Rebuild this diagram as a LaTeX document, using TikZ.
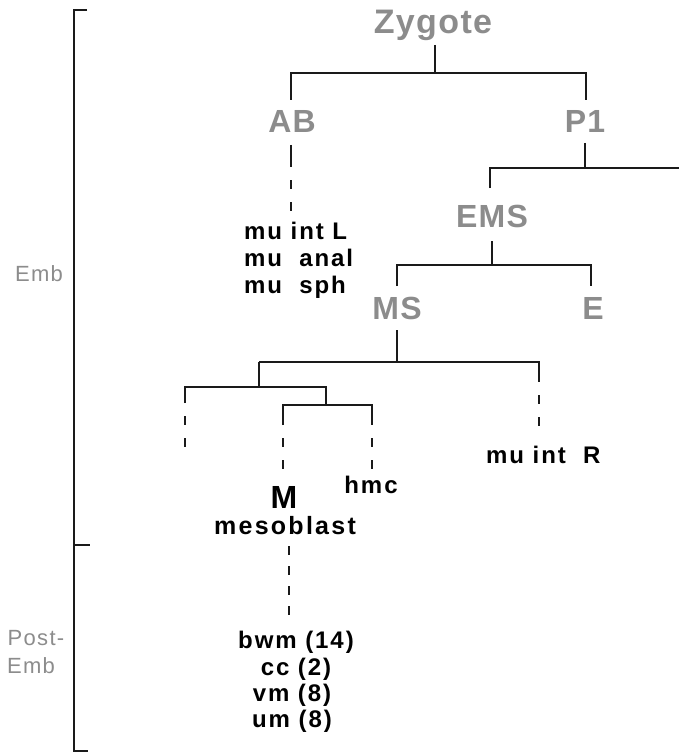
\documentclass[tikz,border=0pt]{standalone}
\usepackage{fontspec}
\setmainfont{Liberation Sans}
\definecolor{lbl}{HTML}{8C8C8C}
\definecolor{ln}{HTML}{1A1A1A}
\tikzset{
  cell/.style={font=\fontsize{32}{32}\selectfont\bfseries\addfontfeatures{LetterSpace=4}, text=lbl, inner sep=0pt, anchor=base},
  fate/.style={font=\fontsize{24}{24}\selectfont\bfseries\addfontfeatures{LetterSpace=8}, text=black, inner sep=0pt, anchor=base},
  stage/.style={font=\fontsize{22}{22}\selectfont\addfontfeatures{LetterSpace=6}, text=lbl, inner sep=0pt, anchor=base},
  tree/.style={draw=ln, line width=1.6pt},
  drop/.style={draw=ln, line width=1.6pt, dash pattern=on 9pt off 13pt},
}
\begin{document}
\begin{tikzpicture}[x=1pt,y=-1pt]
\useasboundingbox (0,0) rectangle (679,754);
% stage bracket
\draw[line width=1.5pt, draw=ln] (87,10) -- (74,10) -- (74,751) -- (88,751);
\draw[line width=1.5pt, draw=ln] (74,545) -- (90,545);
\node[stage] (emb) at (39,281) {Emb};
\node[stage] (post) at (36,645) {Post-};
\node[stage] (emb2) at (31,673) {Emb};
% cells
\node[cell, font=\fontsize{34}{34}\selectfont\bfseries\addfontfeatures{LetterSpace=4}] (zyg) at (433,34) {Zygote};
\node[cell] (AB) at (292,133) {AB};
\node[cell] (P1) at (585,133) {P1};
\node[cell] (EMS) at (492,227) {EMS};
\node[cell] (MS) at (397,319) {MS};
\node[cell] (E) at (593,319) {E};
% fates
\node[fate, anchor=base west] (intL) at (244,239) {mu int L};
\node[fate, anchor=base west] (anal) at (244,266) {mu~ anal};
\node[fate, anchor=base west] (sph) at (244,293) {mu~ sph};
\node[fate, anchor=base west] (intR) at (486,463) {mu int~ R};
\node[fate] (hmc) at (371,493) {hmc};
\node[fate, font=\fontsize{32}{32}\selectfont\bfseries] (M) at (284,508) {M};
\node[fate, font=\fontsize{25}{25}\selectfont\bfseries\addfontfeatures{LetterSpace=9}] (meso) at (285,534) {mesoblast};
\node[fate] (bwm) at (296,648) {bwm (14)};
\node[fate] (cc) at (296,675) {cc (2)};
\node[fate] (vm) at (292,701) {vm (8)};
\node[fate] (um) at (292,727) {um (8)};
% junction coordinates
\coordinate (zygB) at (435,45);
\coordinate (zygJ) at (435,73);
\coordinate (ABt) at (291,100);
\coordinate (P1t) at (586,100);
\coordinate (ABb) at (291,145);
\coordinate (P1b) at (585,143);
\coordinate (P1J) at (585,168);
\coordinate (P1r) at (679,168);
\coordinate (EMSt) at (490,188);
\coordinate (EMSb) at (492,241);
\coordinate (EMSJ) at (492,265);
\coordinate (MSt) at (397,286);
\coordinate (Et) at (591,286);
\coordinate (MSb) at (397,330);
\coordinate (MSJ) at (397,362);
\coordinate (aJ) at (259,362);
\coordinate (Rt) at (539,362);
\coordinate (aJb) at (259,387);
\coordinate (aaT) at (185,387);
\coordinate (bJ) at (326,387);
\coordinate (bJb) at (326,405);
\coordinate (Mt) at (283,405);
\coordinate (hT) at (372,405);
% tree
\draw[tree] (zygB) -- (zygJ);
\draw[tree] (ABt) |- (zygJ) -| (P1t);
\draw[tree] (ABb) -- (291,167);
\draw[drop] (291,180) -- (291,212);
\draw[tree] (P1b) -- (P1J);
\draw[tree] (EMSt) |- (P1r);
\draw[tree] (EMSb) -- (EMSJ);
\draw[tree] (MSt) |- (EMSJ) -| (Et);
\draw[tree] (MSb) -- (MSJ);
\draw[tree] (aJ) -- (Rt) -- (539,382);
\draw[drop] (539,395) -- (539,428);
\draw[tree] (aJ) -- (aJb);
\draw[tree] (185,403) |- (bJ) -- (bJb);
\draw[drop] (185,416) -- (185,450);
\draw[tree] (283,425) |- (hT) -- (372,425);
\draw[drop] (283,438) -- (283,472);
\draw[drop] (372,438) -- (372,470);
\draw[drop, dash pattern=on 9pt off 11pt] (289,546) -- (289,615);
\end{tikzpicture}
\end{document}
